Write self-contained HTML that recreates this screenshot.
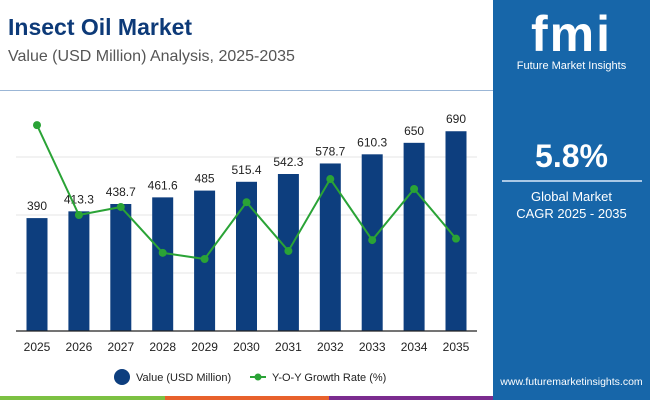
<!DOCTYPE html>
<html><head><meta charset="utf-8"><style>
body{margin:0;width:650px;height:400px;overflow:hidden;background:#fff;font-family:"Liberation Sans",sans-serif;position:relative}
.abs{position:absolute}
</style></head><body>
<div class="abs" style="left:8px;top:14px;font-size:23px;font-weight:bold;color:#0d3a78">Insect Oil Market</div>
<div class="abs" style="left:8px;top:48px;font-size:16px;color:#555">Value (USD Million) Analysis, 2025-2035</div>
<div class="abs" style="left:0;top:90px;width:493px;height:1px;background:#9bb6d6"></div>
<div class="abs" style="left:493px;top:0;width:157px;height:400px;background:#1766a9"></div>
<div class="abs" style="left:493px;top:6px;width:157px;text-align:center;color:#fff;font-size:50px;font-weight:bold;letter-spacing:2px;line-height:56px">fmi</div>
<div class="abs" style="left:493px;top:60px;width:157px;text-align:center;color:#fff;font-size:11px">Future Market Insights</div>
<div class="abs" style="left:493px;top:138px;width:157px;text-align:center;color:#fff;font-size:32px;font-weight:bold">5.8%</div>
<div class="abs" style="left:502px;top:180px;width:140px;height:2px;background:#a9c8e6"></div>
<div class="abs" style="left:493px;top:188px;width:157px;text-align:center;color:#fff;font-size:13px;line-height:17px">Global Market<br>CAGR 2025 - 2035</div>
<div class="abs" style="left:493px;top:376px;width:157px;text-align:center;color:#fff;font-size:10.5px">www.futuremarketinsights.com</div>
<div class="abs" style="left:0;top:396px;width:165px;height:4px;background:#7cc142"></div>
<div class="abs" style="left:165px;top:396px;width:164px;height:4px;background:#e8612c"></div>
<div class="abs" style="left:329px;top:396px;width:164px;height:4px;background:#7b2c8f"></div>
<svg class="abs" style="left:0;top:0" width="493" height="396" id="chart"></svg>
<script>
const categories=["2025","2026","2027","2028","2029","2030","2031","2032","2033","2034","2035"];
const values=[390,413.3,438.7,461.6,485,515.4,542.3,578.7,610.3,650,690];
const valueLabels=["390","413.3","438.7","461.6","485","515.4","542.3","578.7","610.3","650","690"];
const growth=[7.9,6.0,6.17,5.2,5.07,6.27,5.24,6.76,5.47,6.55,5.5];
const NS="http://www.w3.org/2000/svg";
const svg=document.getElementById('chart');
const x=i=>37+i*41.9;
const y=v=>331-v*0.2895;
const yG=v=>498.8-47.3*v;
function mk(t,a){const e=document.createElementNS(NS,t);for(const k in a)e.setAttribute(k,a[k]);svg.appendChild(e);return e;}
[157,215,273].forEach(gy=>{const g=mk('line',{x1:16,x2:477,y1:gy,y2:gy,stroke:'#e6e6e6','stroke-width':1});

});
values.forEach((v,i)=>{
const b=mk('rect',{x:x(i)-10.5,y:y(v),width:21,height:331-y(v),fill:'#0d3e7e'});


const t=mk('text',{x:x(i),y:y(v)-8,'text-anchor':'middle','font-size':12,fill:'#222'});t.textContent=valueLabels[i];


const c=mk('text',{x:x(i),y:351,'text-anchor':'middle','font-size':12,fill:'#222'});c.textContent=categories[i];


});
const ax=mk('line',{x1:16,x2:477,y1:331,y2:331,stroke:'#222','stroke-width':1.2});


const pl=mk('polyline',{points:growth.map((g,i)=>x(i)+','+yG(g)).join(' '),fill:'none',stroke:'#2aa336','stroke-width':2});


growth.forEach((g,i)=>{const p=mk('circle',{cx:x(i),cy:yG(g),r:4,fill:'#2aa336'});

});
const l1=mk('circle',{cx:122,cy:377,r:8,fill:'#0d3e7e'});


const lt1=mk('text',{x:136,y:381,'font-size':11,fill:'#222'});lt1.textContent='Value (USD Million)';


const l2=mk('line',{x1:250,x2:266,y1:377,y2:377,stroke:'#2aa336','stroke-width':2});


const l2c=mk('circle',{cx:258,cy:377,r:3.5,fill:'#2aa336'});


const lt2=mk('text',{x:272,y:381,'font-size':11,fill:'#222'});lt2.textContent='Y-O-Y Growth Rate (%)';


</script>
</body></html>
